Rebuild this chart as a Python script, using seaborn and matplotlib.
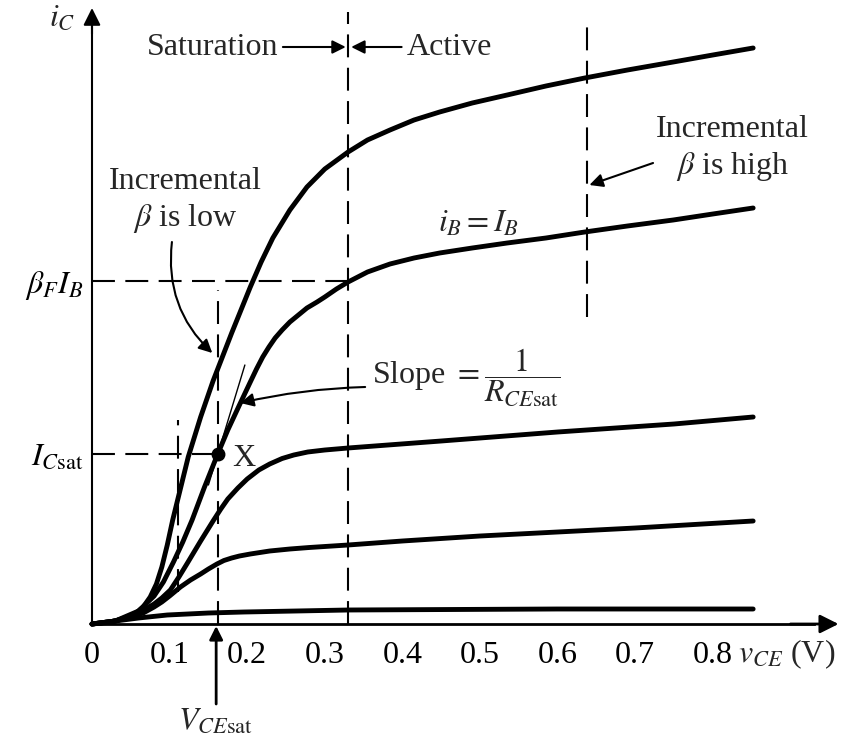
import numpy as np
import pandas as pd
import matplotlib
matplotlib.use("Agg")
import matplotlib.pyplot as plt
import seaborn as sns

# ---------- data (v_CE in V, i_C in arbitrary units) ----------
vce_1 = [0, 0.02, 0.04, 0.055, 0.066, 0.075, 0.083, 0.09, 0.097, 0.104, 0.124,
         0.14, 0.156, 0.18, 0.204, 0.218, 0.233, 0.255, 0.277, 0.30, 0.33,
         0.355, 0.384, 0.415, 0.448, 0.49, 0.535, 0.585, 0.635, 0.69, 0.749,
         0.80, 0.852]
ic_1 = [0, 0.015, 0.05, 0.10, 0.17, 0.27, 0.40, 0.57, 0.79, 1.04, 1.67,
        2.07, 2.43, 2.91, 3.37, 3.62, 3.86, 4.14, 4.37, 4.55, 4.72,
        4.84, 4.94, 5.04, 5.12, 5.21, 5.29, 5.38, 5.46, 5.54, 5.62,
        5.69, 5.76]

vce_2 = [0, 0.03, 0.06, 0.08, 0.092, 0.105, 0.117, 0.129, 0.145, 0.162, 0.175,
         0.19, 0.204, 0.212, 0.22, 0.228, 0.236, 0.245, 0.255, 0.266, 0.277,
         0.29, 0.30, 0.315, 0.33, 0.355, 0.384, 0.415, 0.448, 0.49, 0.535,
         0.585, 0.635, 0.69, 0.749, 0.80, 0.852]
ic_2 = [0, 0.03, 0.13, 0.28, 0.42, 0.62, 0.82, 1.04, 1.37, 1.70, 1.94,
        2.19, 2.42, 2.55, 2.67, 2.77, 2.86, 2.94, 3.02, 3.09, 3.16,
        3.22, 3.27, 3.35, 3.42, 3.52, 3.60, 3.66, 3.71, 3.76, 3.81,
        3.86, 3.92, 3.98, 4.04, 4.10, 4.16]

vce_3 = [0, 0.03, 0.06, 0.08, 0.09, 0.101, 0.112, 0.123, 0.14, 0.156, 0.166,
         0.175, 0.188, 0.2, 0.215, 0.229, 0.245, 0.26, 0.278, 0.30, 0.33,
         0.45, 0.6, 0.75, 0.852]
ic_3 = [0, 0.03, 0.11, 0.20, 0.26, 0.34, 0.47, 0.61, 0.83, 1.03, 1.15,
        1.25, 1.36, 1.45, 1.54, 1.60, 1.655, 1.69, 1.72, 1.74, 1.76,
        1.83, 1.92, 2.00, 2.07]

vce_4 = [0, 0.03, 0.066, 0.08, 0.09, 0.10, 0.114, 0.127, 0.14, 0.15, 0.161,
         0.17, 0.18, 0.19, 0.204, 0.229, 0.255, 0.28, 0.33, 0.40, 0.5, 0.6,
         0.7, 0.852]
ic_4 = [0, 0.03, 0.11, 0.17, 0.22, 0.28, 0.37, 0.44, 0.50, 0.55, 0.60,
        0.635, 0.66, 0.68, 0.70, 0.73, 0.75, 0.765, 0.79, 0.83, 0.88, 0.92,
        0.96, 1.03]

vce_5 = [0, 0.03, 0.06, 0.097, 0.15, 0.196, 0.33, 0.6, 0.852]
ic_5 = [0, 0.03, 0.06, 0.09, 0.11, 0.12, 0.14, 0.15, 0.15]

x_ticks = [0, 0.1, 0.2, 0.3, 0.4, 0.5, 0.6, 0.7, 0.8]
x_tick_labels = ["0", "0.1", "0.2", "0.3", "0.4", "0.5", "0.6", "0.7", "0.8"]

vce_sat = 0.162      # point X
ic_sat = 1.70
beta_ib = 3.43       # beta_F * I_B level
v_edge = 0.33        # saturation / active boundary
v_high = 0.638       # "incremental beta is high" marker
v_left = 0.111       # short dashed mark left of X

tangent_v = [0.150, 0.197]
tangent_i = [1.39, 2.59]

curves = pd.concat([
    pd.DataFrame({"vce": vce_1, "ic": ic_1, "curve": "c1"}),
    pd.DataFrame({"vce": vce_2, "ic": ic_2, "curve": "c2"}),
    pd.DataFrame({"vce": vce_3, "ic": ic_3, "curve": "c3"}),
    pd.DataFrame({"vce": vce_4, "ic": ic_4, "curve": "c4"}),
    pd.DataFrame({"vce": vce_5, "ic": ic_5, "curve": "c5"}),
])

sns.set_theme(style="white")
plt.rcParams["font.family"] = ["Liberation Serif", "DejaVu Serif"]
plt.rcParams["mathtext.fontset"] = "stix"
FS = 23

fig = plt.figure(figsize=(8.44, 7.42), dpi=100)
ax = fig.add_axes([0, 0, 1, 1])
ax.set_facecolor("white")
ax.set_xlim(-92 / 776, (844 - 92) / 776)
ax.set_ylim(-1.18, 6.24)

sns.lineplot(data=curves, x="vce", y="ic", hue="curve", units="curve",
             estimator=None, sort=False, palette=["black"] * 5,
             linewidth=3.5, legend=False, ax=ax)
sns.lineplot(x=tangent_v, y=tangent_i, color="black", linewidth=1.0, ax=ax)
ax.set_xlabel("")
ax.set_ylabel("")

# ---------- axes ----------
for side in ("top", "right"):
    ax.spines[side].set_visible(False)
ax.spines["left"].set_position(("data", 0))
ax.spines["bottom"].set_position(("data", 0))
ax.spines["left"].set_bounds(0, 6.0)
ax.spines["bottom"].set_bounds(0, 0.93)
ax.spines["left"].set_linewidth(1.5)
ax.spines["bottom"].set_linewidth(2.0)
for sp in ("left", "bottom"):
    ax.spines[sp].set_color("black")
ax.annotate("", xy=(0.962, 0), xytext=(0.90, 0),
            arrowprops=dict(arrowstyle="-|>", color="black", lw=2,
                            mutation_scale=28, shrinkA=0, shrinkB=0))
ax.annotate("", xy=(0, 6.16), xytext=(0, 5.9),
            arrowprops=dict(arrowstyle="-|>", color="black", lw=1.5,
                            mutation_scale=26, shrinkA=0, shrinkB=0))

ax.set_xticks(x_ticks, labels=x_tick_labels)
ax.tick_params(axis="x", direction="in", length=14, width=1.3, pad=12,
               labelsize=FS, colors="black")
ax.set_yticks([ic_sat, beta_ib],
              labels=[r"$I_{C\mathrm{sat}}$", r"$\beta_F I_B$"])
ax.tick_params(axis="y", length=0, pad=6, labelsize=FS, colors="black")
ax.grid(False)

ax.text(-0.022, 6.06, r"$i_C$", fontsize=FS, ha="right", va="center")
ax.text(0.832, -0.30, r"$v_{CE}$ (V)", fontsize=FS, ha="left", va="center")

# ---------- dashed guide lines ----------
dash = dict(color="black", lw=1.5, linestyle=(0, (11, 5)))
ax.plot([0, v_edge], [beta_ib, beta_ib], **dash)
ax.plot([0, vce_sat], [ic_sat, ic_sat], **dash)
ax.plot([vce_sat, vce_sat], [0, 3.34], **dash)
ax.plot([v_edge, v_edge], [0, 6.12], **dash)
ax.plot([v_high, v_high], [3.07, 6.01], **dash)
ax.plot([v_left, v_left], [0.32, 2.04], **dash)

ax.plot([vce_sat], [ic_sat], "o", color="black", markersize=9)
ax.text(0.181, 1.66, "X", fontsize=FS, ha="left", va="center")

# ---------- annotations ----------
arr = dict(arrowstyle="-|>", color="black", lw=1.5, mutation_scale=20,
           shrinkA=0, shrinkB=0)
ax.text(0.240, 5.77, "Saturation", fontsize=FS, ha="right", va="center")
ax.annotate("", xy=(0.327, 5.77), xytext=(0.246, 5.77), arrowprops=arr)
ax.text(0.406, 5.77, "Active", fontsize=FS, ha="left", va="center")
ax.annotate("", xy=(0.334, 5.77), xytext=(0.399, 5.77), arrowprops=arr)

ax.text(0.120, 4.23, "Incremental\n" + r"$\beta$ is low", fontsize=FS,
        ha="center", va="center", multialignment="center", linespacing=1.22)
ax.annotate("", xy=(0.155, 2.71), xytext=(0.103, 3.82),
            arrowprops=dict(arr, connectionstyle="arc3,rad=0.25"))

ax.text(0.825, 4.75, "Incremental\n" + r"$\beta$ is high", fontsize=FS,
        ha="center", va="center", multialignment="center", linespacing=1.28)
ax.annotate("", xy=(0.641, 4.39), xytext=(0.723, 4.61), arrowprops=arr)

ax.text(0.498, 4.0, r"$i_B = I_B$", fontsize=FS, ha="center", va="center")

ax.text(0.361, 2.47, r"Slope $= \dfrac{1}{R_{CE\mathrm{sat}}}$", fontsize=FS,
        ha="left", va="center")
ax.annotate("", xy=(0.191, 2.21), xytext=(0.352, 2.37),
            arrowprops=dict(arr, connectionstyle="arc3,rad=0.05"))

ax.annotate("", xy=(0.160, -0.02), xytext=(0.160, -0.80),
            arrowprops=dict(arr, lw=2))
ax.text(0.159, -0.83, r"$V_{CE\mathrm{sat}}$", fontsize=FS, ha="center",
        va="top")

fig.savefig("out.png", dpi=100, facecolor="white")
